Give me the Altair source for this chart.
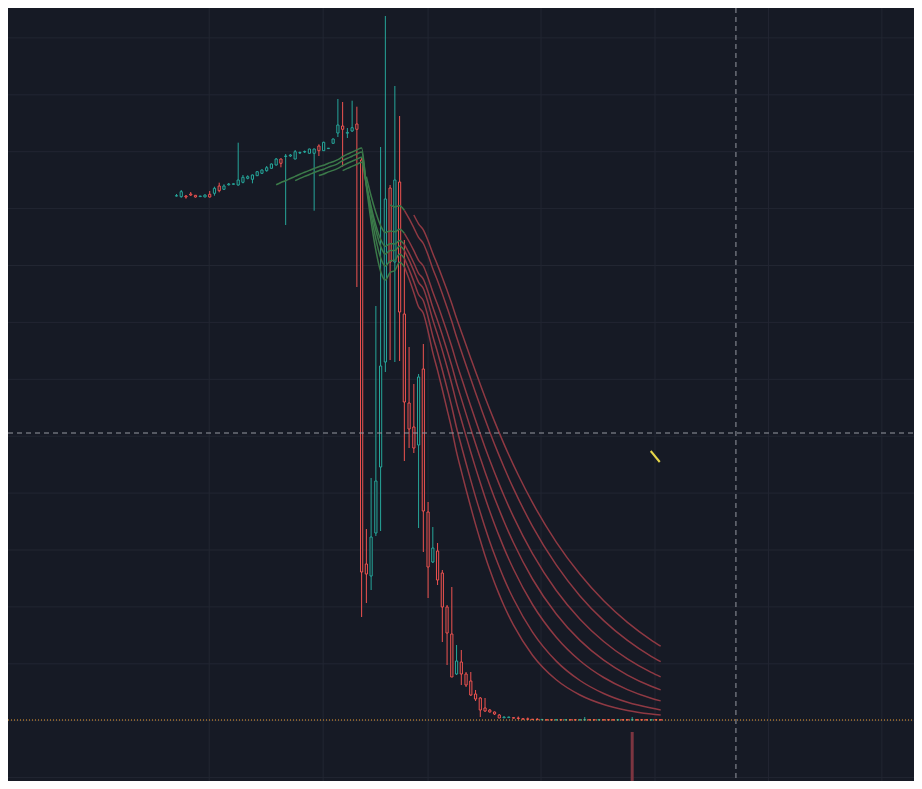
import altair as alt
import pandas as pd

# ---------------- colours ----------------
BG = "#161a25"
GRID = "#222632"
UP = "#26a69a"
DOWN = "#ef5350"
MA_GREEN = "#3b7a49"
MA_RED = "#8f3943"
CROSS = "#9598a1"
PRICE_LINE = "#f0a030"
VOL_COLOR = "#7c3540"
DRAW_COLOR = "#e6d64a"

# ---------------- candles (bar index 0..102) ----------------
OPEN = [525, 524.3, 525, 527, 525.7, 524.4, 524, 526.7, 527.7, 535,
        531.7, 536.2, 536.7, 536, 538.7, 542.7, 541.7, 545.3, 547.7, 550.3,
        552.7, 556, 562, 564.5, 565, 562, 568, 569, 567.7, 567.7,
        575, 570.3, 572.4, 577.7, 588, 595, 587.8, 590, 597, 561,
        157, 145, 188, 254, 359, 533, 459, 539, 407, 318,
        294, 276, 352, 209, 159, 170, 148, 114, 87, 47,
        59, 47, 40, 27, 23, 13, 11, 9, 6, 3.2,
        3.4, 3.4, 3, 2.3, 2.2, 1.8, 1.7, 1.2,
        1.3, 1.3, 1.0, 1.3, 1.0, 1.3, 1.3, 1.0, 1.0, 1.3,
        1.3, 1.0, 1.3, 1.3, 1.3, 1.0, 1.3, 1.3, 1.0, 1.3,
        1.3, 1.3, 1.0, 1.3, 1.3]
HIGH = [527, 531, 526, 529, 526, 525, 526.5, 530, 534.3, 538.3,
        536.7, 538, 537.5, 578.3, 546, 545.7, 546.5, 550, 551.5, 555,
        557.5, 563, 562.5, 567, 567, 571, 569.5, 570.5, 572.3, 572.3,
        576.7, 579.3, 573, 582.5, 622, 619, 593, 620.3, 614.3, 563,
        192, 243, 415, 574, 705, 536, 635, 605, 481, 374,
        337, 347, 377, 219, 194, 178, 151, 116, 134, 76,
        71, 49, 49, 31, 24, 23, 12, 9.5, 7, 4.5,
        4.2, 3.5, 4.5, 2.5, 3.5, 2, 3, 1.8,
        1.5, 1.5, 1.5, 1.5, 1.5, 1.5, 1.5, 1.5, 4.0, 1.5,
        1.5, 1.5, 1.5, 1.5, 1.5, 1.5, 1.5, 1.5, 4.0, 1.5,
        1.5, 1.5, 1.5, 1.5, 1.5]
LOW = [524.5, 523.3, 522.3, 525, 523.5, 524.4, 524, 523.5, 525.3, 528.7,
       531, 535.5, 536.5, 535.3, 537.7, 541.7, 537.7, 545, 547, 549.3,
       552.3, 555.5, 553.7, 496, 564, 561.7, 567, 568, 567.5, 510.3,
       565, 570, 572, 577.5, 584, 554.3, 583, 589, 434, 104,
       118, 131, 185, 190, 349, 361, 359, 360, 260, 273,
       268, 193, 169, 123, 158, 136, 79, 56, 44, 46,
       36, 34, 25, 20, 4, 9, 8.5, 6, 3, 3,
       3.2, 2.6, 1.5, 1.7, 1, 1.3, 1, 1,
       0.8, 0.8, 0.9, 0.8, 0.9, 0.8, 0.8, 0.9, 0.9, 0.8,
       0.8, 0.9, 0.8, 0.8, 0.8, 0.9, 0.8, 0.8, 0.9, 0.8,
       0.8, 0.8, 0.9, 0.8, 0.8]
CLOSE = [525.3, 529.3, 524, 526, 524, 525, 526, 524, 532.7, 530.3,
         535, 537, 537.2, 541, 543.7, 544.3, 546, 549.3, 551, 553.3,
         557, 562, 557.7, 565, 566, 569.3, 568.5, 569.5, 572, 572,
         570.3, 578.7, 572.8, 582, 596, 591.7, 588.6, 593.3, 591.7, 149,
         147, 184, 240, 355, 522, 459, 541, 409, 319, 292,
         273, 344, 210, 154, 173, 141, 114, 88, 44, 60,
         47, 36, 26, 22, 11, 10, 9, 7, 3, 4,
         4, 2.8, 2.5, 1.8, 1.7, 1.4, 1.3, 1.6,
         1.0, 1.0, 1.3, 1.0, 1.3, 1.0, 1.0, 1.3, 1.3, 1.0,
         1.0, 1.3, 1.0, 1.0, 1.0, 1.3, 1.0, 1.0, 1.3, 1.0,
         1.0, 1.0, 1.3, 1.0, 1.0]

# ---------------- moving-average ribbon (bar index, value) ----------------
TAIL_K = [75, 80, 85, 90, 95, 100, 102]
MA1_K = list(range(21, 72)) + TAIL_K
MA1 = [536.2, 538.5, 540.3, 542.5, 544.6, 546.8, 548.7, 550.6, 552.5, 554.3,
       555.7, 557.8, 559.2, 561.3, 564.4, 566.9, 568.9, 571.1, 573.0, 534.5,
       499.3, 470.6, 449.6, 441.0, 448.4, 450.5, 458.7, 454.2, 441.9, 428.3,
       414.2, 407.8, 389.8, 368.4, 350.6, 331.5, 311.7, 291.4, 268.9, 249.9,
       231.5, 213.7, 196.6, 180.7, 165.3, 151.2, 138.3, 126.4, 115.2, 105.1,
       95.9,
       65.8, 41.2, 26, 16.5, 10.6, 7, 5.9]
MA2_K = list(range(25, 72)) + TAIL_K
MA2 = [540.4, 542.6, 544.6, 546.5, 548.5, 550.3, 551.8, 553.9, 555.4, 557.4,
       560.4, 562.8, 564.8, 567.0, 568.9, 536.6, 506.6, 481.8, 463.2, 454.9,
       460.1, 460.9, 467.1, 462.6, 451.6, 439.3, 426.5, 420.2, 404.0, 384.8,
       368.5, 351.0, 332.8, 314.0, 293.2, 275.3, 257.7, 240.6, 224.1, 208.6,
       193.4, 179.3, 166.2, 154.0, 142.4, 131.8, 122.0,
       88.9, 59.9, 40.5, 27.5, 18.7, 12.9, 11.1]
MA3_K = list(range(30, 72)) + TAIL_K
MA3 = [545.4, 547.0, 549.1, 550.6, 552.6, 555.4, 557.8, 559.8, 561.9, 563.8,
       537.1, 511.9, 490.8, 474.6, 466.9, 470.5, 470.5, 475.0, 470.7, 460.9,
       450.0, 438.6, 432.5, 418.1, 401.1, 386.4, 370.6, 354.0, 336.8, 317.9,
       301.3, 284.9, 268.8, 253.1, 238.2, 223.5, 209.7, 196.8, 184.6, 172.9,
       162.0, 151.8,
       116.5, 83.8, 60.3, 43.5, 31.4, 22.8, 20.1]
MA4_K = list(range(35, 72)) + TAIL_K
MA4 = [550.3, 552.6, 554.6, 556.7, 558.7, 535.9, 514.3, 495.9, 481.7, 474.7,
       477.3, 477.0, 480.6, 476.6, 467.8, 458.0, 447.7, 441.9, 429.0, 413.7,
       400.3, 385.9, 370.8, 355.1, 337.8, 322.4, 307.1, 292.0, 277.2, 263.0,
       249.0, 235.7, 223.1, 211.1, 199.5, 188.6, 178.3,
       142.0, 107.0, 80.6, 60.8, 45.9, 34.7, 31.1]
MA5_K = list(range(40, 72)) + TAIL_K
MA5 = [544.4, 525.0, 508.4, 495.3, 488.5, 490.1, 489.2, 491.7, 487.7, 479.5,
       470.3, 460.7, 455.0, 443.0, 428.9, 416.4, 403.0, 388.9, 374.2, 358.1,
       343.6, 329.1, 314.8, 300.7, 287.1, 273.6, 260.7, 248.4, 236.6, 225.2,
       214.4, 204.1,
       167.3, 130.5, 101.8, 79.5, 62.1, 48.6, 44.1]
MA6_K = list(range(45, 72)) + TAIL_K
MA6 = [516.1, 514.1, 515.3, 510.7, 502.4, 493.2, 483.6, 477.5, 465.9, 452.3,
       440.2, 427.2, 413.6, 399.4, 383.9, 369.8, 355.8, 341.9, 328.2, 314.9,
       301.7, 289.0, 276.8, 265.1, 253.7, 242.8, 232.4,
       194.7, 156.1, 125.1, 100.4, 80.6, 64.7, 59.3]
MA7_K = list(range(50, 73)) + TAIL_K
MA7 = [506, 497.2, 491.2, 480.2, 467.4, 455.9, 443.6, 430.7, 417.3, 402.7,
       389.3, 375.9, 362.6, 349.4, 336.6, 323.8, 311.5, 299.6, 288.1, 276.9,
       266.2, 255.9, 246.0,
       218.3, 178.9, 146.7, 120.2, 98.6, 80.9, 74.8]
GREEN_UNTIL = 48   # ribbon drawn green up to this bar, red from it on

# ---------------- other chart items ----------------
PRICE_GRID = [-56.6, 0.3, 57.2, 114.1, 171.0, 227.9, 284.8, 341.7, 398.6,
              455.5, 512.4, 569.3, 626.2, 683.1]
TIME_GRID = [6.9, 30.9, 53.0, 76.8, 100.8, 124.7, 148.6]
LAST_PRICE = 1.0
CROSS_K = 117.85
CROSS_P = 288.0
VOL_K = [96]
VOL_TOP = [-11]
VOL_BASE = [-80]
DRAW_K = [99.9, 101.8]
DRAW_P = [270, 259]

# ---------------- layout ----------------
W, H = 906, 773
XDOM = [-34.44, 154.31]
YDOM = [-60, 713]
xs = alt.Scale(domain=XDOM, nice=False, zero=False)
ys = alt.Scale(domain=YDOM, nice=False, zero=False)

candles = pd.DataFrame({"k": list(range(len(OPEN))), "o": OPEN, "h": HIGH,
                        "l": LOW, "c": CLOSE})
rows = []
for name, ks, vs in [("ma1", MA1_K, MA1), ("ma2", MA2_K, MA2), ("ma3", MA3_K, MA3),
                     ("ma4", MA4_K, MA4), ("ma5", MA5_K, MA5), ("ma6", MA6_K, MA6),
                     ("ma7", MA7_K, MA7)]:
    for k, v in zip(ks, vs):
        rows.append({"line": name, "k": k, "v": v})
ma = pd.DataFrame(rows)

X = lambda f: alt.X(f, type="quantitative", scale=xs, axis=None)
Y = lambda f: alt.Y(f, type="quantitative", scale=ys, axis=None)

hgrid = alt.Chart(pd.DataFrame({"p": PRICE_GRID})).mark_rule(
    color=GRID, strokeWidth=1).encode(y=Y("p"), x=alt.value(0), x2=alt.value(W))
vgrid = alt.Chart(pd.DataFrame({"k": TIME_GRID})).mark_rule(
    color=GRID, strokeWidth=1).encode(x=X("k"), y=alt.value(0), y2=alt.value(H))

vol = alt.Chart(pd.DataFrame({"k": VOL_K, "v": VOL_TOP, "b": VOL_BASE})).mark_bar(
    size=3, color=VOL_COLOR, clip=True).encode(x=X("k"), y=Y("v"), y2="b:Q")

updown = alt.condition("datum.c >= datum.o", alt.value(UP), alt.value(DOWN))
wicks = alt.Chart(candles).mark_rule(strokeWidth=1).encode(
    x=X("k"), y=Y("h"), y2="l:Q", color=updown)
bodies = alt.Chart(candles).mark_bar(size=2.2, fill=BG, strokeWidth=1).encode(
    x=X("k"), y=Y("o"), y2="c:Q", stroke=updown)

ma_green = alt.Chart(ma).transform_filter(f"datum.k <= {GREEN_UNTIL}").mark_line(
    color=MA_GREEN, strokeWidth=1.5, interpolate="monotone").encode(
    x=X("k"), y=Y("v"), detail="line:N")
ma_red = alt.Chart(ma).transform_filter(f"datum.k >= {GREEN_UNTIL}").mark_line(
    color=MA_RED, strokeWidth=1.5, interpolate="monotone").encode(
    x=X("k"), y=Y("v"), detail="line:N")

price_line = alt.Chart(pd.DataFrame({"p": [LAST_PRICE]})).mark_rule(
    color=PRICE_LINE, strokeWidth=1, strokeDash=[1, 2]).encode(
    y=Y("p"), x=alt.value(0), x2=alt.value(W))

drawing = alt.Chart(pd.DataFrame({"k": DRAW_K, "p": DRAW_P})).mark_line(
    color=DRAW_COLOR, strokeWidth=2).encode(x=X("k"), y=Y("p"))

cross_h = alt.Chart(pd.DataFrame({"p": [CROSS_P]})).mark_rule(
    color=CROSS, strokeWidth=1, strokeDash=[5, 4]).encode(
    y=Y("p"), x=alt.value(0), x2=alt.value(W))
cross_v = alt.Chart(pd.DataFrame({"k": [CROSS_K]})).mark_rule(
    color=CROSS, strokeWidth=1, strokeDash=[5, 4]).encode(
    x=X("k"), y=alt.value(0), y2=alt.value(H))

chart = alt.layer(
    hgrid, vgrid, vol, wicks, bodies, ma_green, ma_red, price_line, drawing,
    cross_h, cross_v
).properties(
    width=W, height=H, background=BG, padding=0,
    autosize=alt.AutoSizeParams(type="none"),
).configure_view(stroke=None)

chart.save("out.html", embed_options={"renderer": "svg", "actions": False})
